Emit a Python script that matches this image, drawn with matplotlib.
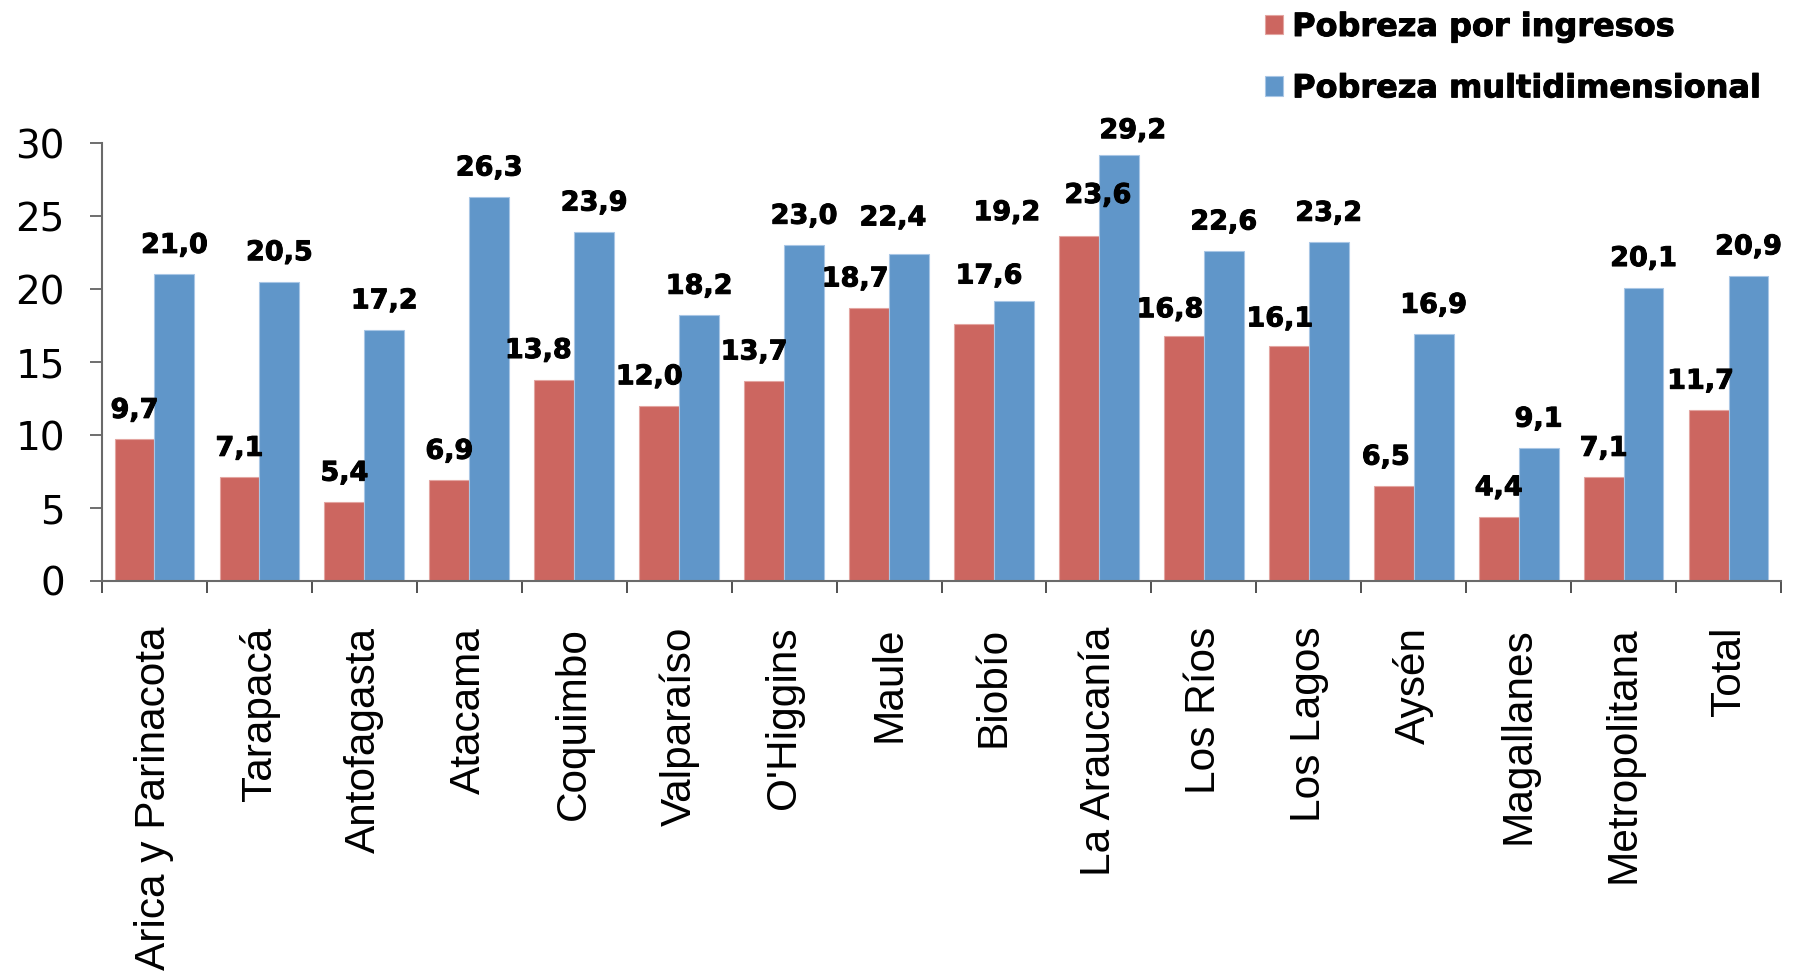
#%%
"""
Pobreza por ingresos vs pobreza multidimensional, por region (%)
"""
#%%
import numpy as np
import matplotlib
matplotlib.use("Agg")
import matplotlib.pyplot as plt
import matplotlib.patheffects as pe
from matplotlib.ticker import FixedLocator

#%% Data
regiones = ["Arica y Parinacota", "Tarapacá", "Antofagasta", "Atacama", "Coquimbo",
            "Valparaíso", "O'Higgins", "Maule", "Biobío", "La Araucanía", "Los Ríos",
            "Los Lagos", "Aysén", "Magallanes", "Metropolitana", "Total"]
pobreza_ingresos = [9.7, 7.1, 5.4, 6.9, 13.8, 12.0, 13.7, 18.7, 17.6, 23.6, 16.8, 16.1, 6.5, 4.4, 7.1, 11.7]
pobreza_multidim = [21.0, 20.5, 17.2, 26.3, 23.9, 18.2, 23.0, 22.4, 19.2, 29.2, 22.6, 23.2, 16.9, 9.1, 20.1, 20.9]
series_names = ["Pobreza por ingresos", "Pobreza multidimensional"]
yticks = [0, 5, 10, 15, 20, 25, 30]

#%% Style
c_red  = "#CC6660"
c_blue = "#6096C9"
W, H, DPI = 1796, 980, 100
px = 0.72  # points per pixel at dpi 100
heavy = [pe.withStroke(linewidth=0.7, foreground="black")]  # Verdana bold is heavier

# manual nudges of the data labels, in pixels (dx, dy)
nudge_red = {4: (-16, 0), 5: (-10, 0), 6: (-10, 0), 7: (-14, 0), 8: (15, 19),
             9: (19, 12), 10: (-14, -3), 11: (-9, -2), 12: (-8, 0), 15: (-8, 0)}
nudge_blue = {7: (-16, 7), 8: (-7, 59), 9: (14, -5)}

#%% Plot
fig = plt.figure(figsize=(W / DPI, H / DPI), dpi=DPI)
ax = fig.add_axes([102 / W, 1 - 581 / H, (1781 - 102) / W, (581 - 143) / H])

x = np.arange(len(regiones))
bw = 0.38
b1 = ax.bar(x - bw / 2, pobreza_ingresos, bw, color=c_red, edgecolor="#E3A5A1", linewidth=0.8,
            label=series_names[0])
b2 = ax.bar(x + bw / 2, pobreza_multidim, bw, color=c_blue, edgecolor="#A8C6E5", linewidth=0.8,
            label=series_names[1])

def add_labels(bars, values, nudges):
    for i, (rect, v) in enumerate(zip(bars, values)):
        dx, dy = nudges.get(i, (0, 0))
        ax.annotate(f"{v:.1f}".replace(".", ","),
                    xy=(rect.get_x() + rect.get_width() / 2, v),
                    xytext=(dx * px, (28.5 + dy) * px), textcoords="offset points",
                    ha="center", va="center", fontsize=19.5, fontweight="bold",
                    family="DejaVu Sans", color="black", path_effects=heavy)

add_labels(b1, pobreza_ingresos, nudge_red)
add_labels(b2, pobreza_multidim, nudge_blue)

ax.set_xlim(-0.5, len(regiones) - 0.5)
ax.set_ylim(0, 30)
ax.set_yticks(yticks)
ax.tick_params(axis="y", length=12 * px, width=1.2, pad=18, labelsize=28, color="#555555")
ax.set_xticks(x)
ax.set_xticklabels(regiones, rotation=90, fontsize=30.5, family="Liberation Sans")
ax.tick_params(axis="x", which="major", length=0, pad=33)
ax.xaxis.set_minor_locator(FixedLocator(np.arange(-0.5, len(regiones), 1.0)))
ax.tick_params(axis="x", which="minor", length=12 * px, width=1.2, color="#333333")

for s in ["top", "right"]:
    ax.spines[s].set_visible(False)
for s in ["left", "bottom"]:
    ax.spines[s].set_color("#6a6a6a")
    ax.spines[s].set_linewidth(1.5)

leg = ax.legend(loc="upper left", bbox_to_anchor=(1265 / W, 1 - 12 / H), bbox_transform=fig.transFigure,
                frameon=False, prop=dict(family="DejaVu Sans", weight="bold", size=23),
                handlelength=0.55, handleheight=0.55, handletextpad=0.3, labelspacing=0.95,
                borderpad=0, borderaxespad=0)
for t in leg.get_texts():
    t.set_path_effects(heavy)

fig.savefig("out.png", dpi=DPI)
